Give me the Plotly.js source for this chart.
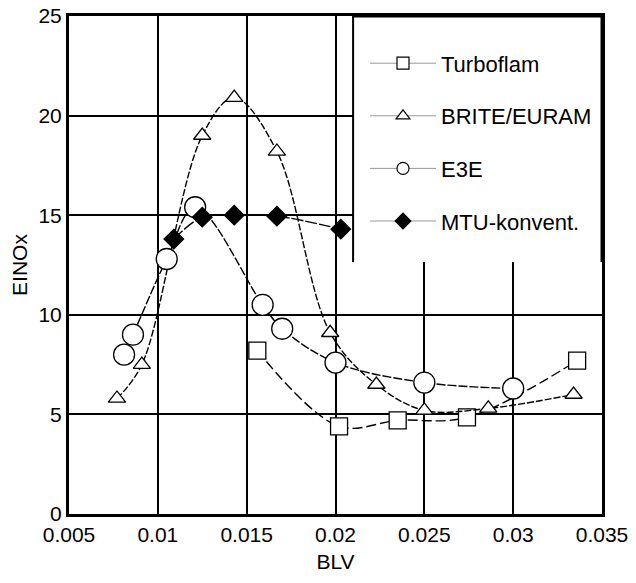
<!DOCTYPE html>
<html>
<head>
<meta charset="utf-8">
<script src="https://cdn.plot.ly/plotly-3.0.1.min.js"></script>
<style>html,body{margin:0;padding:0;background:#fff;}#chart{width:636px;height:583px;}</style>
</head>
<body>
<div id="chart"></div>
<script>
// Data
const turboX = [0.0156, 0.0202, 0.0235, 0.0274, 0.0336];
const turboY = [8.2, 4.4, 4.7, 4.85, 7.7];

const briteX = [0.0077, 0.0091, 0.0125, 0.0143, 0.0167, 0.0197, 0.0223, 0.0250, 0.0286, 0.0334];
const briteY = [5.8, 7.5, 19.0, 20.9, 18.2, 9.1, 6.5, 5.2, 5.3, 6.0];

const e3eX = [0.0081, 0.0086, 0.0105, 0.0121, 0.0159, 0.0170, 0.0200, 0.0250, 0.0300];
const e3eY = [8.0, 9.0, 12.8, 15.4, 10.5, 9.3, 7.6, 6.6, 6.3];

const mtuX = [0.0109, 0.0125, 0.0143, 0.0167, 0.0203];
const mtuY = [13.8, 14.9, 15.0, 14.95, 14.3];

const seriesNames = ['Turboflam', 'BRITE/EURAM', 'E3E', 'MTU-konvent.'];
const xTicks = [0.005, 0.01, 0.015, 0.02, 0.025, 0.03, 0.035];
const xTickText = ['0.005', '0.01', '0.015', '0.02', '0.025', '0.03', '0.035'];
const yTicks = [0, 5, 10, 15, 20, 25];

const FONT = 'Liberation Sans, Arial, sans-serif';
const lineBase = {color: '#000', width: 1.4, shape: 'spline', smoothing: 1};

const defs = [
  {x: turboX, y: turboY, sym: 'square', size: 17, fill: '#fff', dash: '10px,4px'},
  {x: briteX, y: briteY, sym: 'triangle-up', size: 15, fill: '#fff', dash: '7px,2px'},
  {x: e3eX, y: e3eY, sym: 'circle', size: 21, fill: '#fff', dash: '9px,2px'},
  {x: mtuX, y: mtuY, sym: 'diamond', size: 15, fill: '#000', dash: '12px,2px'}
];

const traces = [];
defs.forEach((d, i) => {
  traces.push({
    type: 'scatter', mode: 'lines+markers', x: d.x, y: d.y, name: seriesNames[i],
    showlegend: false, cliponaxis: false,
    line: Object.assign({}, lineBase, {dash: d.dash}),
    marker: {symbol: d.sym, size: d.size, color: d.fill, line: {color: '#000', width: 1.3}}
  });
});
defs.forEach((d, i) => {
  traces.push({
    type: 'scatter', mode: 'lines+markers', x: [null], y: [null], name: seriesNames[i],
    showlegend: true, legendgroup: 'g' + i,
    line: {color: '#999', width: 1},
    marker: {symbol: d.sym, size: 12, color: d.fill, line: {color: '#000', width: 1.2}}
  });
});

const layout = {
  width: 636, height: 583,
  margin: {l: 69, r: 34, t: 16, b: 69},
  paper_bgcolor: '#fff', plot_bgcolor: '#fff',
  font: {family: FONT, size: 21, color: '#000'},
  showlegend: true,
  legend: {
    x: (365 - 69) / 533, y: 0.947, xanchor: 'left', yanchor: 'top',
    bgcolor: 'rgba(0,0,0,0)', borderwidth: 0,
    font: {family: FONT, size: 22, color: '#000'},
    tracegroupgap: 21, itemwidth: 66, traceorder: 'grouped'
  },
  xaxis: {
    range: [0.005, 0.035], tickvals: xTicks, ticktext: xTickText,
    showgrid: true, gridcolor: '#000', gridwidth: 2,
    showline: true, linecolor: '#000', linewidth: 3, mirror: true,
    ticks: '', zeroline: false,
    tickfont: {family: FONT, size: 21, color: '#000'},
    title: {text: 'BLV', font: {family: FONT, size: 21, color: '#000'}, standoff: 10}
  },
  yaxis: {
    range: [0, 25], tickvals: yTicks,
    showgrid: true, gridcolor: '#000', gridwidth: 2,
    showline: true, linecolor: '#000', linewidth: 3, mirror: true,
    ticks: '', zeroline: false,
    tickfont: {family: FONT, size: 21, color: '#000'},
    title: {text: 'EINOx', font: {family: FONT, size: 21, color: '#000'}, standoff: 6}
  },
  shapes: [
    {type: 'rect', xref: 'paper', yref: 'paper', x0: 0.533, x1: 1, y0: 0.506, y1: 1,
     fillcolor: '#fff', line: {width: 0}, layer: 'above'},
    {type: 'line', xref: 'paper', yref: 'paper', x0: 0.533, x1: 0.533, y0: 0.506, y1: 1,
     line: {color: '#000', width: 2}, layer: 'above'},
    {type: 'line', xref: 'paper', yref: 'paper', x0: 0.533, x1: 1, y0: 1, y1: 1,
     line: {color: '#000', width: 3}, layer: 'above'},
    {type: 'line', xref: 'paper', yref: 'paper', x0: 1, x1: 1, y0: 0.506, y1: 1,
     line: {color: '#000', width: 3}, layer: 'above'}
  ]
};

Plotly.newPlot('chart', traces, layout, {displayModeBar: false, staticPlot: true});
</script>
</body>
</html>
